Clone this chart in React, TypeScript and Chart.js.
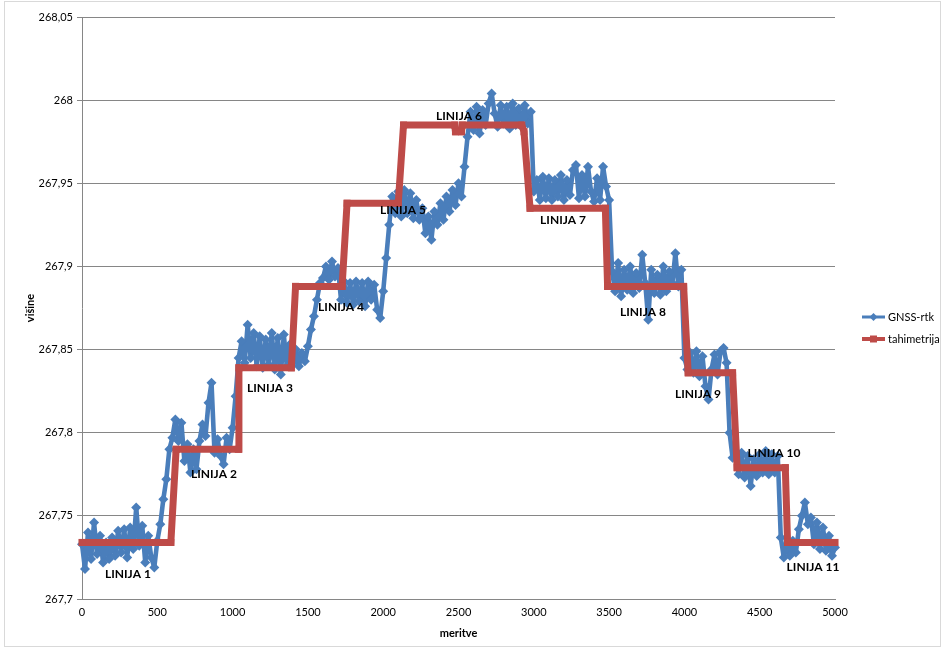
import React, { useEffect, useRef } from "react";
import { Chart, registerables } from "chart.js";

Chart.register(...registerables);

// Axis ticks
const yTicks = [267.7, 267.75, 267.8, 267.85, 267.9, 267.95, 268, 268.05];
const xTicks = [0, 500, 1000, 1500, 2000, 2500, 3000, 3500, 4000, 4500, 5000];

// GNSS-rtk heights, one value every GNSS_STEP measurements (0 … 5000)
const GNSS_STEP = 20;
const gnssHeights = [
  267.733, 267.718, 267.74, 267.724, 267.746, 267.727, 267.738, 267.722, 267.734, 267.724,
  267.737, 267.726, 267.741, 267.728, 267.742, 267.725, 267.743, 267.73, 267.755, 267.732,
  267.744, 267.722, 267.738, 267.725, 267.719, 267.735, 267.745, 267.76, 267.772, 267.79,
  267.797, 267.808, 267.795, 267.806, 267.783, 267.793, 267.776, 267.79, 267.778, 267.795,
  267.805, 267.798, 267.818, 267.83, 267.788, 267.796, 267.786, 267.781, 267.797, 267.79,
  267.803, 267.822, 267.845, 267.855, 267.842, 267.865, 267.845, 267.86, 267.84, 267.858,
  267.839, 267.856, 267.841, 267.86, 267.838, 267.857, 267.835, 267.859, 267.84, 267.853,
  267.842, 267.85, 267.84, 267.848, 267.843, 267.852, 267.862, 267.87, 267.88, 267.89,
  267.893, 267.9, 267.892, 267.903, 267.894, 267.899, 267.88, 267.891, 267.878, 267.89,
  267.877, 267.891, 267.879, 267.89, 267.876, 267.891, 267.88, 267.889, 267.874, 267.869,
  267.885, 267.905, 267.925, 267.942, 267.932, 267.945, 267.93, 267.946, 267.932, 267.944,
  267.929, 267.94, 267.928, 267.935, 267.92, 267.93, 267.916, 267.933, 267.925, 267.938,
  267.928, 267.942, 267.933, 267.946, 267.937, 267.95, 267.942, 267.96, 267.978, 267.993,
  267.982, 267.996, 267.98, 267.994, 267.985, 267.998, 268.004, 267.992, 267.984, 267.997,
  267.986, 267.996, 267.983, 267.998, 267.985, 267.995, 267.984, 267.997, 267.986, 267.993,
  267.945, 267.952, 267.94, 267.954, 267.941, 267.953, 267.94, 267.952, 267.942, 267.955,
  267.94, 267.952, 267.943, 267.958, 267.961, 267.941, 267.955, 267.942, 267.96, 267.945,
  267.939, 267.953, 267.94, 267.96, 267.948, 267.94, 267.897, 267.885, 267.902, 267.882,
  267.898, 267.886, 267.9, 267.884, 267.896, 267.887, 267.907, 267.89, 267.868, 267.898,
  267.884, 267.895, 267.883, 267.9, 267.885, 267.897, 267.89, 267.908, 267.888, 267.898,
  267.845, 267.838, 267.848, 267.836, 267.849, 267.834, 267.846, 267.828, 267.82, 267.838,
  267.847, 267.835, 267.849, 267.851, 267.842, 267.8, 267.785, 267.789, 267.775, 267.788,
  267.773, 267.786, 267.768, 267.784, 267.774, 267.787, 267.776, 267.789, 267.775, 267.787,
  267.776, 267.786, 267.737, 267.725, 267.733, 267.726, 267.735, 267.728, 267.742, 267.75,
  267.758, 267.745, 267.749, 267.733, 267.746, 267.73, 267.743, 267.729, 267.738, 267.726,
  267.731,
];

// Tachymetry (tahimetrija) profile: vertices of the stepped line
const tahX = [
  0, 590, 625, 1038, 1042, 1390, 1418, 1727, 1760, 2100, 2135, 2475, 2480, 2520, 2525,
  2920, 2935, 2975, 3475, 3490, 3995, 4025, 4320, 4350, 4670, 4685, 5000,
];
const tahY = [
  267.734, 267.734, 267.79, 267.79, 267.839, 267.839, 267.888, 267.888, 267.938, 267.938,
  267.985, 267.985, 267.981, 267.981, 267.985, 267.985, 267.981, 267.935, 267.935, 267.888,
  267.888, 267.836, 267.836, 267.779, 267.779, 267.734, 267.734,
];

// Survey line annotations
const lineNames = [
  "LINIJA 1", "LINIJA 2", "LINIJA 3", "LINIJA 4", "LINIJA 5", "LINIJA 6",
  "LINIJA 7", "LINIJA 8", "LINIJA 9", "LINIJA 10", "LINIJA 11",
];
const lineLabelX = [305, 876, 1248, 1720, 2131, 2503, 3194, 3725, 4090, 4595, 4854];
const lineLabelY = [
  267.715, 267.775, 267.827, 267.8755, 267.934, 267.9903, 267.928, 267.8725, 267.8232,
  267.7877, 267.7192,
];

const BLUE = "#4A7EBB";
const RED = "#BE4B48";
const GRID = "#868686";
const FONT = "Lato, 'Liberation Sans', sans-serif";

const fmtHeight = (v: number) =>
  (Math.round(v * 100) / 100).toString().replace(".", ",");

const framePlugin = {
  id: "frame",
  beforeDraw(chart: any) {
    const { ctx, width, height } = chart;
    ctx.save();
    ctx.fillStyle = "#ffffff";
    ctx.fillRect(0, 0, width, height);
    ctx.strokeStyle = "#d9d9d9";
    ctx.lineWidth = 1;
    ctx.strokeRect(4.5, 1.5, width - 8, height - 4);
    ctx.restore();
  },
};

const lineLabelPlugin = {
  id: "lineLabels",
  afterDatasetsDraw(chart: any) {
    const { ctx, scales } = chart;
    ctx.save();
    ctx.font = `bold 12px ${FONT}`;
    ctx.fillStyle = "#000000";
    ctx.textAlign = "center";
    ctx.textBaseline = "middle";
    lineNames.forEach((name, i) => {
      const px = scales.x.getPixelForValue(lineLabelX[i]);
      const py = scales.y.getPixelForValue(lineLabelY[i]);
      ctx.fillText(name, px, py);
    });
    ctx.restore();
  },
};

const sideLegendPlugin = {
  id: "sideLegend",
  afterDraw(chart: any) {
    const { ctx, chartArea } = chart;
    const x0 = chartArea.right + 27;
    const x1 = x0 + 23;
    const rows = [317, 339];
    ctx.save();
    ctx.font = `11px ${FONT}`;
    ctx.textBaseline = "middle";
    ctx.textAlign = "left";
    chart.data.datasets.forEach((ds: any, i: number) => {
      const y = rows[i];
      const mid = (x0 + x1) / 2;
      ctx.strokeStyle = ds.borderColor;
      ctx.fillStyle = ds.borderColor;
      ctx.lineWidth = i === 0 ? 3 : 4;
      ctx.beginPath();
      ctx.moveTo(x0, y);
      ctx.lineTo(x1, y);
      ctx.stroke();
      ctx.beginPath();
      if (ds.pointStyle === "rectRot") {
        ctx.moveTo(mid, y - 4);
        ctx.lineTo(mid + 4, y);
        ctx.lineTo(mid, y + 4);
        ctx.lineTo(mid - 4, y);
        ctx.closePath();
      } else {
        ctx.rect(mid - 3.5, y - 3.5, 7, 7);
      }
      ctx.fill();
      ctx.fillStyle = "#000000";
      ctx.fillText(ds.label, x1 + 3, y);
    });
    ctx.restore();
  },
};

export default function App() {
  const canvasRef = useRef<HTMLCanvasElement | null>(null);

  useEffect(() => {
    const canvas = canvasRef.current;
    if (!canvas) return;

    const gnssData = gnssHeights.map((y, i) => ({ x: i * GNSS_STEP, y }));
    const tahData = tahX.map((x, i) => ({ x, y: tahY[i] }));

    const chart = new Chart(canvas, {
      type: "line",
      data: {
        datasets: [
          {
            label: "GNSS-rtk",
            data: gnssData,
            borderColor: BLUE,
            backgroundColor: BLUE,
            borderWidth: 4.6,
            borderJoinStyle: "round",
            pointStyle: "rectRot",
            pointRadius: 5,
            pointBorderWidth: 0,
            pointHoverRadius: 5,
            tension: 0,
            clip: false,
            order: 1,
          },
          {
            label: "tahimetrija",
            data: tahData,
            borderColor: RED,
            backgroundColor: RED,
            borderWidth: 7,
            borderJoinStyle: "miter",
            pointStyle: "rect",
            pointRadius: 5,
            pointBorderWidth: 0,
            pointHoverRadius: 5,
            tension: 0,
            clip: false,
            order: 0,
          },
        ],
      },
      options: {
        responsive: false,
        animation: false,
        events: [],
        layout: { padding: { top: 17, right: 109, bottom: 0, left: 0 } },
        plugins: {
          legend: { display: false },
          tooltip: { enabled: false },
        },
        scales: {
          x: {
            type: "linear",
            min: 0,
            max: 5000,
            afterBuildTicks: (s: any) => {
              s.ticks = xTicks.map((value) => ({ value }));
            },
            afterFit: (s: any) => {
              s.height = 50;
            },
            ticks: {
              font: { family: FONT, size: 11 },
              color: "#000000",
              padding: 7,
              maxRotation: 0,
              callback: (v: any) => String(v),
            },
            grid: { display: false, drawTicks: false },
            border: { display: true, color: GRID, width: 1 },
            title: {
              display: true,
              text: "meritve",
              color: "#000000",
              font: { family: FONT, size: 11, weight: "bold" },
              padding: { top: 4, bottom: 9 },
            },
          },
          y: {
            type: "linear",
            min: 267.7,
            max: 268.05,
            afterBuildTicks: (s: any) => {
              s.ticks = yTicks.map((value) => ({ value }));
            },
            afterFit: (s: any) => {
              s.width = 82;
            },
            ticks: {
              font: { family: FONT, size: 11 },
              color: "#000000",
              padding: 4,
              callback: (v: any) => fmtHeight(Number(v)),
            },
            grid: { color: GRID, lineWidth: 1, tickLength: 5, drawTicks: true },
            border: { display: true, color: GRID, width: 1 },
            title: {
              display: true,
              text: "višine",
              color: "#000000",
              font: { family: FONT, size: 11, weight: "bold" },
              padding: { top: 24, bottom: 0 },
            },
          },
        },
      },
      plugins: [framePlugin, lineLabelPlugin, sideLegendPlugin],
    } as any);

    return () => chart.destroy();
  }, []);

  return (
    <div style={{ position: "fixed", left: 0, top: 0, width: 944, height: 649, background: "#fff" }}>
      <canvas ref={canvasRef} width={944} height={649} style={{ display: "block" }} />
    </div>
  );
}
